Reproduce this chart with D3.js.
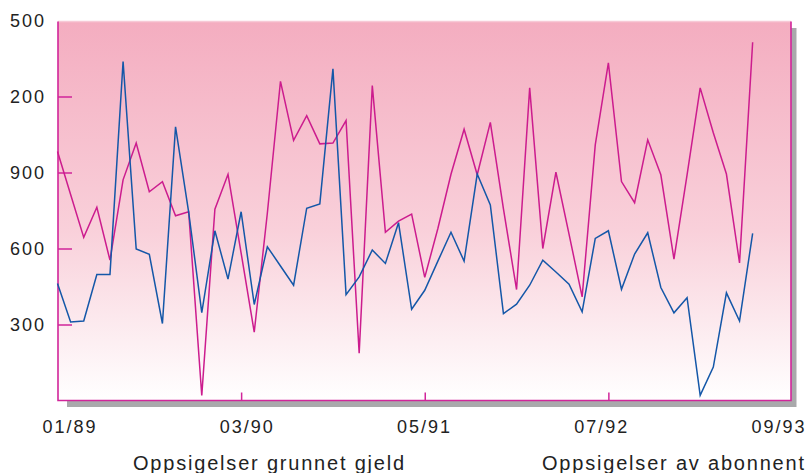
<!DOCTYPE html>
<html>
<head>
<meta charset="utf-8">
<script src="https://cdn.jsdelivr.net/npm/d3@7"></script>
<style>
  html, body { margin: 0; padding: 0; background: #ffffff; }
  svg { display: block; }
  text { font-family: "Liberation Sans", Arial, sans-serif; fill: #222; }
</style>
</head>
<body>
<svg id="chart" width="810" height="473"></svg>
<script>
// Monthly series, Jan 1989 – Jun 1993
const gjeld = [462, 310, 314, 497, 497, 1338, 598, 577, 304, 1080,
               744, 347, 670, 479, 745, 379, 607, 531, 455, 759,
               776, 1309, 418, 488, 594, 541, 702, 360, 435, 550,
               664, 550, 894, 772, 343, 380, 455, 554, 507, 459,
               350, 640, 670, 439, 578, 662, 446, 346, 406, 20,
               132, 425, 314, 660];
const abonnent = [983, 813, 644, 763, 554, 871, 1016, 824, 864, 729,
                  745, 20, 755, 893, 582, 270, 740, 1260, 1027, 1124,
                  1013, 1016, 1105, 187, 1243, 664, 708, 736, 486, 679,
                  893, 1071, 891, 1098, 756, 438, 1234, 600, 901, 657,
                  409, 1009, 1333, 864, 781, 1029, 891, 558, 891, 1234,
                  1057, 894, 543, 1414];
const yTickValues = [300, 600, 900, 1200, 1500];
const yTickLabels = ["300", "600", "900", "200", "500"];
const xTickMonths = [0, 14, 28, 42, 56];
const xTickLabels = ["01/89", "03/90", "05/91", "07/92", "09/93"];
const legendLabels = ["Oppsigelser grunnet gjeld", "Oppsigelser av abonnent"];

const svg = d3.select("#chart");
const plot = { left: 58, right: 791, top: 21.5, bottom: 400.5 };

const x = d3.scaleLinear().domain([0, 56]).range([57.5, 792]);
const y = d3.scaleLinear().domain([0, 1500]).range([400.5, 20.5]);

// background gradient
const defs = svg.append("defs");
const grad = defs.append("linearGradient")
  .attr("id", "bg").attr("x1", 0).attr("y1", 0).attr("x2", 0).attr("y2", 1);
grad.append("stop").attr("offset", "0%").attr("stop-color", "#f4adc0");
grad.append("stop").attr("offset", "55%").attr("stop-color", "#f9d0da");
grad.append("stop").attr("offset", "100%").attr("stop-color", "#ffffff");

// drop shadow
svg.append("rect")
  .attr("x", plot.left + 9).attr("y", plot.top + 6.5)
  .attr("width", plot.right - plot.left - 3.5).attr("height", plot.bottom - plot.top)
  .attr("fill", "#a9a9ab");

svg.append("rect")
  .attr("x", plot.left).attr("y", plot.top)
  .attr("width", plot.right - plot.left).attr("height", plot.bottom - plot.top)
  .attr("fill", "url(#bg)");

// frame
const frameColor = "#d1259a";
svg.append("line")
  .attr("x1", plot.left).attr("x2", plot.right).attr("y1", plot.top).attr("y2", plot.top)
  .attr("stroke", "#f7c9d6").attr("stroke-width", 1.5);
svg.append("path")
  .attr("d", `M${plot.left},${plot.top}V${plot.bottom}H${plot.right}V${plot.top}`)
  .attr("fill", "none").attr("stroke", frameColor).attr("stroke-width", 1.6);

// y axis: inward ticks, labels at the left
const yAxis = svg.append("g")
  .attr("transform", `translate(${plot.left},0)`)
  .call(d3.axisLeft(y)
    .tickValues(yTickValues)
    .tickSize(-14)
    .tickPadding(12)
    .tickFormat((d, i) => yTickLabels[i]));
yAxis.select(".domain").remove();
yAxis.selectAll(".tick line").attr("stroke", frameColor).attr("stroke-width", 1.5);
yAxis.selectAll(".tick").filter(d => d === 1500).select("line").remove();
yAxis.selectAll(".tick text")
  .attr("font-size", 18).attr("letter-spacing", "2px").attr("fill", "#222")
  .attr("font-family", "Liberation Sans, Arial, sans-serif");

// x axis: short inward ticks
const xAxis = svg.append("g")
  .attr("transform", `translate(0,${plot.bottom})`)
  .call(d3.axisBottom(x)
    .tickValues(xTickMonths.slice(1, 4))
    .tickSize(-8)
    .tickFormat(""));
xAxis.select(".domain").remove();
xAxis.selectAll(".tick line").attr("stroke", frameColor).attr("stroke-width", 1.5);

// x labels
const xLab = d3.scalePoint().domain(xTickLabels).range([70, 779]);
svg.append("g").selectAll("text")
  .data(xTickLabels)
  .join("text")
  .attr("x", d => xLab(d))
  .attr("y", 433)
  .attr("text-anchor", "middle")
  .attr("font-size", 18)
  .attr("letter-spacing", "2px")
  .text(d => d);

// series lines
const line = d3.line().x((d, i) => x(i)).y(d => y(d));
svg.append("path")
  .datum(abonnent)
  .attr("d", line)
  .attr("fill", "none")
  .attr("stroke", "#cc1c8e")
  .attr("stroke-width", 1.5)
  .attr("stroke-linejoin", "miter");
svg.append("path")
  .datum(gjeld)
  .attr("d", line)
  .attr("fill", "none")
  .attr("stroke", "#1457a8")
  .attr("stroke-width", 1.5)
  .attr("stroke-linejoin", "miter");

// legend captions
const legX = [133, 542];
svg.append("g").selectAll("text")
  .data(legendLabels)
  .join("text")
  .attr("x", (d, i) => legX[i])
  .attr("y", 470)
  .attr("font-size", 20)
  .attr("letter-spacing", "1.8px")
  .text(d => d);
</script>
</body>
</html>
